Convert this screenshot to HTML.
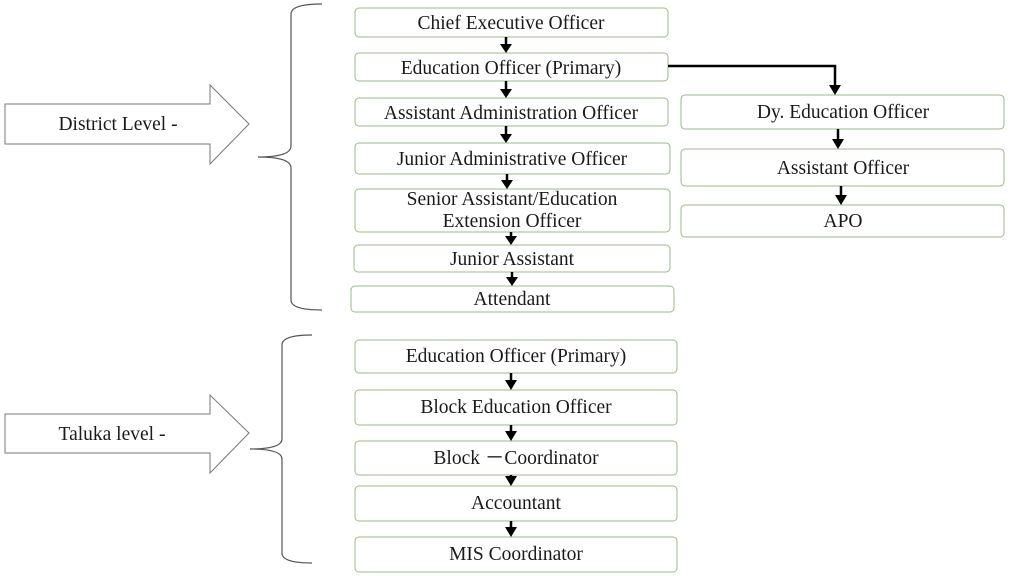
<!DOCTYPE html>
<html><head><meta charset="utf-8"><style>
html,body{margin:0;padding:0;background:#fff;}
svg{display:block;}
text{font-family:"Liberation Serif",serif;font-size:19.5px;fill:#1a1a1a;text-anchor:middle;}
.b{fill:#fff;stroke:#9cb88a;stroke-width:1;}
.a{stroke:#000;stroke-width:2.5;fill:none;}
.h{fill:#000;}
.g{fill:#fff;stroke:#777;stroke-width:1;}
.br{fill:none;stroke:#555;stroke-width:1.2;}
</style></head><body>
<svg width="1024" height="576" viewBox="0 0 1024 576" xmlns="http://www.w3.org/2000/svg">
<polygon class="g" points="5,104 210,104 210,85 249,124 210,164 210,144 5,144"/>
<text x="118" y="130">District Level -</text>
<polygon class="g" points="5,414 210,414 210,395 249,433 210,473 210,453 5,453"/>
<text x="112" y="440">Taluka level -</text>
<path class="br" d="M322,4 Q291,4 291,14 L291,146 Q291,157 258,157 Q291,157 291,168 L291,300 Q291,310 322,310"/>
<path class="br" d="M312,335 Q282,335 282,345 L282,439 Q282,449 250,449 Q282,449 282,459 L282,553 Q282,563 312,563"/>
<rect class="b" x="355" y="8" width="313" height="29" rx="4"/><text x="511" y="29">Chief Executive Officer</text>
<rect class="b" x="355" y="53" width="313" height="28" rx="4"/><text x="511" y="74">Education Officer (Primary)</text>
<rect class="b" x="355" y="98" width="313" height="28" rx="4"/><text x="511" y="119">Assistant Administration Officer</text>
<rect class="b" x="355" y="143" width="315" height="31" rx="4"/><text x="512" y="165">Junior Administrative Officer</text>
<rect class="b" x="355" y="189" width="315" height="43" rx="4"/><text x="512" y="205">Senior Assistant/Education</text><text x="512" y="227">Extension Officer</text>
<rect class="b" x="354" y="245" width="316" height="27" rx="4"/><text x="512" y="265">Junior Assistant</text>
<rect class="b" x="351" y="286" width="323" height="26" rx="4"/><text x="512" y="305">Attendant</text>
<g>
<line class="a" x1="506" y1="37" x2="506" y2="45"/><polygon class="h" points="500,44 512,44 506,53"/>
<line class="a" x1="506" y1="81" x2="506" y2="90"/><polygon class="h" points="500,89 512,89 506,98"/>
<line class="a" x1="506" y1="126" x2="506" y2="135"/><polygon class="h" points="500,134 512,134 506,143"/>
<line class="a" x1="507" y1="174" x2="507" y2="181"/><polygon class="h" points="501,180 513,180 507,189"/>
<line class="a" x1="511" y1="232" x2="511" y2="237"/><polygon class="h" points="505,236 517,236 511,245"/>
<line class="a" x1="512" y1="272" x2="512" y2="278"/><polygon class="h" points="506,277 518,277 512,286"/>
</g>
<path class="a" d="M668,66 L835,66 L835,86"/><polygon class="h" points="829,85 841,85 835,95"/>
<rect class="b" x="681" y="95" width="323" height="34" rx="4"/><text x="843" y="118">Dy. Education Officer</text>
<rect class="b" x="681" y="149" width="323" height="37" rx="4"/><text x="843" y="174">Assistant Officer</text>
<rect class="b" x="681" y="205" width="323" height="32" rx="4"/><text x="843" y="227">APO</text>
<line class="a" x1="838" y1="129" x2="838" y2="140"/><polygon class="h" points="832,139 844,139 838,149"/>
<line class="a" x1="841" y1="186" x2="841" y2="196"/><polygon class="h" points="835,195 847,195 841,205"/>
<rect class="b" x="355" y="340" width="322" height="33" rx="4"/><text x="516" y="362">Education Officer (Primary)</text>
<rect class="b" x="355" y="390" width="322" height="35" rx="4"/><text x="516" y="413">Block Education Officer</text>
<rect class="b" x="355" y="441" width="322" height="34" rx="4"/><text x="516" y="464">Block －Coordinator</text>
<rect class="b" x="355" y="486" width="322" height="35" rx="4"/><text x="516" y="509">Accountant</text>
<rect class="b" x="355" y="537" width="322" height="35" rx="4"/><text x="516" y="560">MIS Coordinator</text>
<line class="a" x1="511" y1="373" x2="511" y2="381"/><polygon class="h" points="505,380 517,380 511,390"/>
<line class="a" x1="511" y1="425" x2="511" y2="432"/><polygon class="h" points="505,431 517,431 511,441"/>
<line class="a" x1="511" y1="475" x2="511" y2="477"/><polygon class="h" points="505,476 517,476 511,486"/>
<line class="a" x1="511" y1="521" x2="511" y2="528"/><polygon class="h" points="505,527 517,527 511,537"/>
</svg>
</body></html>
